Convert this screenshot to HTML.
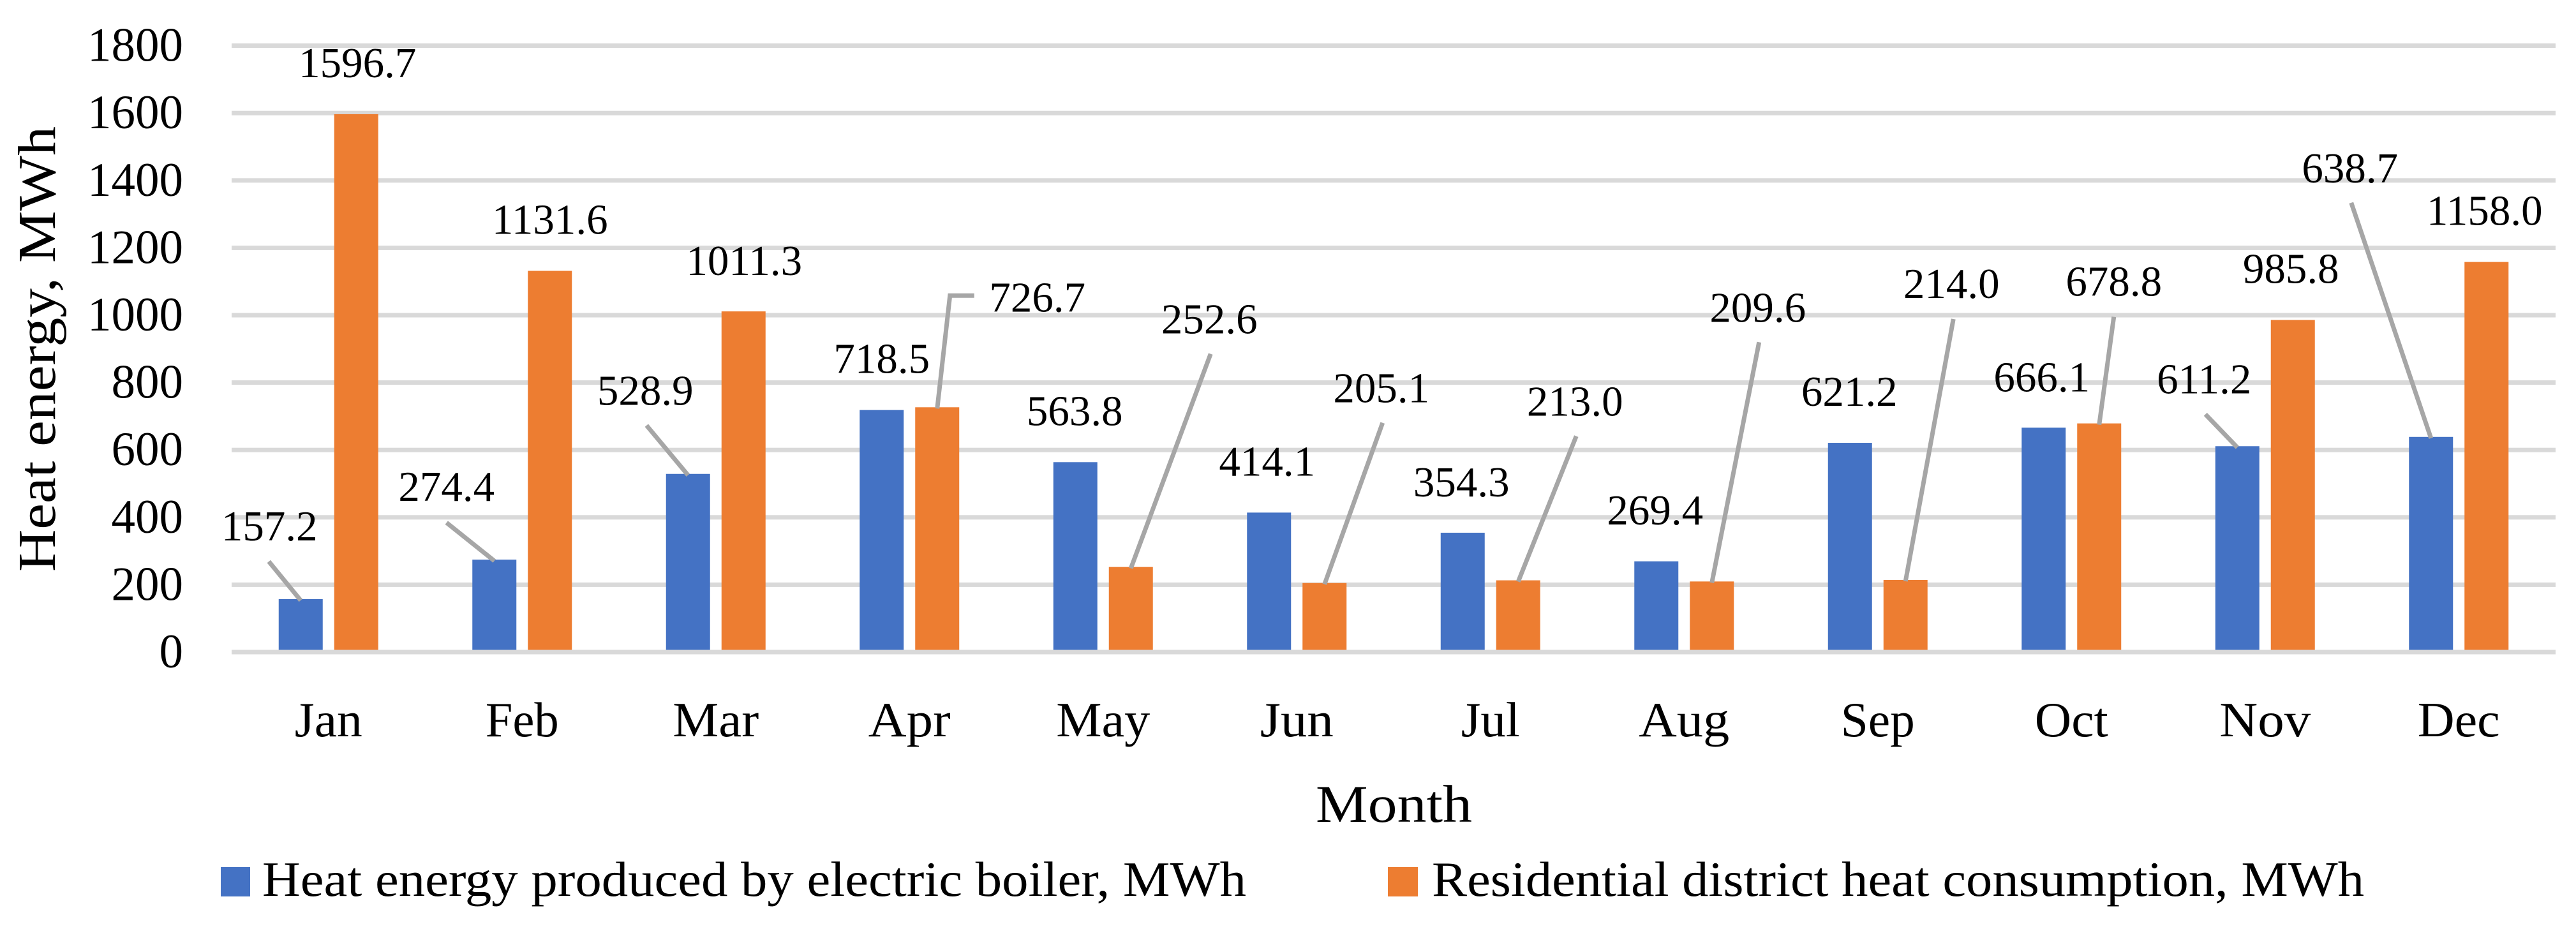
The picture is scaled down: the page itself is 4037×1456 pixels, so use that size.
<!DOCTYPE html>
<html lang="en">
<head>
<meta charset="utf-8">
<title>Monthly heat energy</title>
<style>
  html, body { margin: 0; padding: 0; background: #fff; }
  svg { display: block; }
  text { font-family: "Liberation Serif", "DejaVu Serif", serif; fill: #000; }
</style>
</head>
<body>
<svg id="chart" xmlns="http://www.w3.org/2000/svg" width="4037" height="1456" viewBox="0 0 4037 1456">
  <rect x="0" y="0" width="4037" height="1456" fill="#ffffff"/>
  <g id="grid"></g>
  <g id="yticks"></g>
  <g id="bars"></g>
  <g id="baseline"></g>
  <g id="xticks"></g>
  <g id="leaders"></g>
  <g id="labels"></g>
  <text transform="translate(86,896) rotate(-90)" font-size="84" textLength="698" lengthAdjust="spacingAndGlyphs">Heat energy, MWh</text>
  <text x="2062" y="1288" font-size="83" textLength="245" lengthAdjust="spacingAndGlyphs">Month</text>
  <g>
    <g>
      <rect x="346" y="1359" width="46" height="46" fill="#4472c4"/>
      <text x="411" y="1404" font-size="77" textLength="1542" lengthAdjust="spacingAndGlyphs">Heat energy produced by electric boiler, MWh</text>
    </g>
    <g>
      <rect x="2175" y="1359" width="47" height="46" fill="#ed7d31"/>
      <text x="2244" y="1404" font-size="77" textLength="1461" lengthAdjust="spacingAndGlyphs">Residential district heat consumption, MWh</text>
    </g>
  </g>
</svg>
<script>
const months = ['Jan','Feb','Mar','Apr','May','Jun','Jul','Aug','Sep','Oct','Nov','Dec'];
const boilerValues = [157.2,274.4,528.9,718.5,563.8,414.1,354.3,269.4,621.2,666.1,611.2,638.7];
const districtValues = [1596.7,1131.6,1011.3,726.7,252.6,205.1,213.0,209.6,214.0,678.8,985.8,1158.0];
const yTicks = [0,200,400,600,800,1000,1200,1400,1600,1800];

/* Layout (not data): label placement relative to the top of each bar */
const monthLabelWidths = [106,115,135,129,147,115,92,142,116,115,143,129];
const boilerLabelOffsets = [[-49,-92],[-75,-92],[-67,-108],[0,-58],[-1,-58],[-3,-58],[-2,-57],[-2,-58],[-1,-58],[-3,-57],[-52,-83],[-127,-399]];
const districtLabelOffsets = [[2,-58],[0,-58],[1,-57],[157,-150],[123,-366],[89,-283],[89,-258],[72,-407],[72,-442],[23,-200],[-3,-58],[-3,-58]];
const boilerLeaders = {0:[[-50,-59]],1:[[-75,-58]],2:[[-65,-76]],10:[[-50,-50]],11:[[-125,-367]]};
const districtLeaders = {3:[[20,-175],[58,-175]],4:[[125,-334]],5:[[91,-251]],6:[[91,-226]],7:[[74,-375]],8:[[75,-409]],9:[[23,-167]]};

const NS = 'http://www.w3.org/2000/svg';
const plotLeft = 363, plotRight = 4005, plotZero = 1022, pxPerUnit = 105.6 / 200;
const barWidth = 69, barOffset = 43.5;
const groupWidth = (plotRight - plotLeft) / months.length;
const xCenter = i => plotLeft + (i + 0.5) * groupWidth;
const yScale = v => plotZero - v * pxPerUnit;

function make(tag, parentId, attrs, content) {
  const el = document.createElementNS(NS, tag);
  for (const k in attrs) el.setAttribute(k, attrs[k]);
  if (content !== undefined) el.textContent = content;
  document.getElementById(parentId).appendChild(el);
  return el;
}

yTicks.forEach(t => {
  const y = yScale(t);
  if (t !== 0) {
    const line = make('rect', 'grid', {x: plotLeft, y: y - 3.5, width: plotRight - plotLeft, height: 7, fill: '#d9d9d9'});
    
    
  }
  const label = make('text', 'yticks', {x: 287, y: y + 24, 'font-size': 75, 'text-anchor': 'end'}, String(t));
  
  
});

const axisLine = make('rect', 'baseline', {x: plotLeft, y: plotZero - 3.5, width: plotRight - plotLeft, height: 7, fill: '#d9d9d9'});



months.forEach((m, i) => {
  const tick = make('text', 'xticks', {x: xCenter(i), y: 1154, 'font-size': 77, 'text-anchor': 'middle', textLength: monthLabelWidths[i], lengthAdjust: 'spacingAndGlyphs'}, m);
  
  

  const series = [
    {key: 'boiler', v: boilerValues[i], dir: -1, color: '#4472c4', off: boilerLabelOffsets[i], lead: boilerLeaders[i]},
    {key: 'district', v: districtValues[i], dir: 1, color: '#ed7d31', off: districtLabelOffsets[i], lead: districtLeaders[i]}
  ];
  series.forEach(s => {
    const bc = xCenter(i) + s.dir * barOffset;
    const top = yScale(s.v);
    const bar = make('rect', 'bars', {x: bc - barWidth / 2, y: top, width: barWidth, height: plotZero - top, fill: s.color});
    
    

    if (s.lead) {
      const pts = [[bc, top + 2]].concat(s.lead.map(p => [bc + p[0], top + p[1]]));
      const leader = make('polyline', 'leaders', {points: pts.map(p => p.join(',')).join(' '), fill: 'none', stroke: '#a6a6a6', 'stroke-width': 7, 'stroke-linejoin': 'miter'});
      
      
    }

    const lbl = make('text', 'labels', {x: bc + s.off[0], y: top + s.off[1], 'font-size': 67, 'text-anchor': 'middle'}, s.v.toFixed(1));
    
    
  });
});
</script>
</body>
</html>
